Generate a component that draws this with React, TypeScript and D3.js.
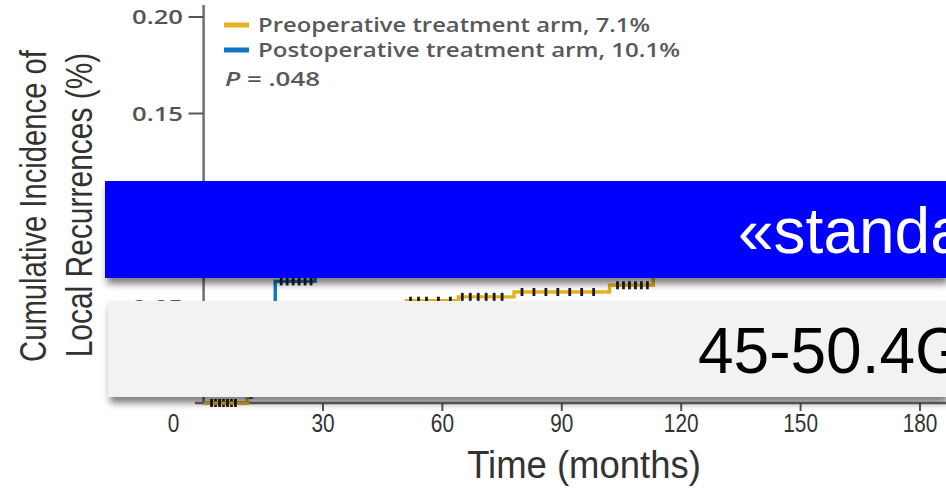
import React from 'react';
import * as d3 from 'd3';

const width = 946;
const height = 491;

// x axis (months) and y axis (cumulative incidence)
const xTicks = [0, 30, 60, 90, 120, 150, 180];
const yTicks = [0.05, 0.1, 0.15, 0.2];
const yTickLabels = ['0.05', '0.10', '0.15', '0.20'];

// preoperative arm, step curve
const preMonths = [0, 11, 12, 13, 15, 17, 20, 24, 30, 38, 46, 51, 64, 78, 102, 113, 125, 140, 160, 190];
const preValues = [0, 0.004, 0.01, 0.016, 0.024, 0.031, 0.037, 0.042, 0.046, 0.049, 0.051, 0.053, 0.055, 0.0575, 0.061, 0.066, 0.068, 0.07, 0.071, 0.071];
const preCensor = [2, 4, 6, 8, 52, 54, 56, 59, 62, 65, 67, 69, 71, 73, 75, 80, 83, 86, 89, 92, 95, 98, 104, 105.5, 107, 108.5, 110, 111.5, 130, 150, 170];

// postoperative arm, step curve
const postMonths = [0, 11, 12, 13, 14, 15, 17, 18, 28, 32, 40, 50, 65, 80, 100, 125, 150, 190];
const postValues = [0, 0.003, 0.012, 0.022, 0.031, 0.04, 0.047, 0.063, 0.067, 0.072, 0.078, 0.084, 0.089, 0.093, 0.097, 0.1, 0.101, 0.101];
const postCensor = [3, 5, 7, 19.5, 21, 22.5, 24, 25.5, 27, 35, 45, 60, 90, 120, 160];

const legendLabels = ['Preoperative treatment arm, 7.1%', 'Postoperative treatment arm, 10.1%'];
const legendColors = ['#e5b21f', '#0a78c2'];

const x = d3.scaleLinear().domain([0, 180]).range([203.6, 920]);
const y = d3.scaleLinear().domain([0, 0.2]).range([403, 17]);

const stepLine = d3.line<[number, number]>()
  .x(d => x(d[0]))
  .y(d => y(d[1]))
  .curve(d3.curveStepAfter);

const valueAt = (months: number[], values: number[], m: number) =>
  values[Math.max(0, d3.bisectRight(months, m) - 1)];

const Curve = ({ months, values, censor, color }: any) => (
  <g>
    <path d={stepLine(months.map((m: number, i: number) => [m, values[i]])) || ''}
      fill="none" stroke={color} strokeWidth={3.4} />
    {censor.map((m: number, i: number) => {
      const cy = y(valueAt(months, values, m));
      return <line key={i} x1={x(m)} x2={x(m)} y1={cy - 4} y2={cy + 4} stroke="#1c1c1c" strokeWidth={2.8} />;
    })}
  </g>
);

const tickFont = '"Open Sans", "DejaVu Sans", sans-serif';
const narrowFont = '"Liberation Sans Narrow", "Liberation Sans", Arial, sans-serif';

export default function App() {
  return (
    <svg width={width} height={height} style={{ position: 'absolute', left: 0, top: 0, background: '#fff' }}>
      <defs>
        <filter id="shadow" x="-5%" y="-20%" width="110%" height="150%">
          <feDropShadow dx={2} dy={6} stdDeviation={3.5} floodColor="#000" floodOpacity={0.5} />
        </filter>
      </defs>

      {/* y axis title, squeezed to look condensed */}
      <g fill="#333" fontFamily={narrowFont} fontSize={37}>
        <text transform="translate(46,206) rotate(-90) scale(0.79,1)" textAnchor="middle">Cumulative Incidence of</text>
        <text transform="translate(92,205) rotate(-90) scale(0.81,1)" textAnchor="middle">Local Recurrences (%)</text>
      </g>

      {/* y axis */}
      <line x1={x(0)} x2={x(0)} y1={5} y2={y(0)} stroke="#6e6e6e" strokeWidth={2.5} />
      {yTicks.map((t, i) => (
        <g key={t} transform={`translate(0,${y(t)})`}>
          <line x1={x(0) - 15} x2={x(0)} stroke="#555" strokeWidth={2} />
          <text x={183} dy="0.35em" textAnchor="end" fill="#555" fontFamily={tickFont} fontWeight={600} fontSize={20}
            textLength={51} lengthAdjust="spacingAndGlyphs">{yTickLabels[i]}</text>
        </g>
      ))}

      {/* x axis */}
      <line x1={195} x2={width} y1={y(0)} y2={y(0)} stroke="#6e6e6e" strokeWidth={2.5} />
      {xTicks.map(t => (
        <g key={t} transform={`translate(${x(t) + (t === 0 ? -30 : 0)},0)`}>
          {t > 0 && <line y1={y(0)} y2={y(0) + 8} stroke="#555" strokeWidth={2} />}
          <text y={432} textAnchor="middle" fill="#333" fontFamily={narrowFont} fontSize={26}
            transform="scale(0.8,1)">{t}</text>
        </g>
      ))}
      <text transform="translate(584,478) scale(0.96,1)" textAnchor="middle" fill="#333" fontFamily={narrowFont} fontSize={38}>
        Time (months)
      </text>

      {/* curves */}
      <Curve months={postMonths} values={postValues} censor={postCensor} color={legendColors[1]} />
      <Curve months={preMonths} values={preValues} censor={preCensor} color={legendColors[0]} />

      {/* legend */}
      {legendLabels.map((l, i) => (
        <g key={l} transform={`translate(0,${25 + i * 25})`}>
          <rect x={224} y={-2.5} width={25} height={5} fill={legendColors[i]} />
          <text x={258} dy="0.35em" fill="#58595b" fontFamily={tickFont} fontWeight={600} fontSize={19}
            textLength={i === 0 ? 392 : 422} lengthAdjust="spacingAndGlyphs">{l}</text>
        </g>
      ))}
      <text x={225} y={79} dy="0.35em" fill="#58595b" fontFamily={tickFont} fontWeight={600} fontSize={19}
        textLength={95} lengthAdjust="spacingAndGlyphs">
        <tspan fontStyle="italic">P</tspan> = .048
      </text>

      {/* overlay banners */}
      <rect x={105} y={181} width={width - 105} height={97} fill="#0000ff" filter="url(#shadow)" />
      <text x={738} y={253} fill="#fff" fontFamily="Arial, 'Liberation Sans', sans-serif" fontSize={64}>«standard»</text>
      <rect x={108} y={301} width={width - 108} height={96} fill="#f2f2f2" filter="url(#shadow)" />
      <text x={698} y={373} fill="#000" fontFamily="Arial, 'Liberation Sans', sans-serif" fontSize={64}>45-50.4Gy</text>
    </svg>
  );
}
